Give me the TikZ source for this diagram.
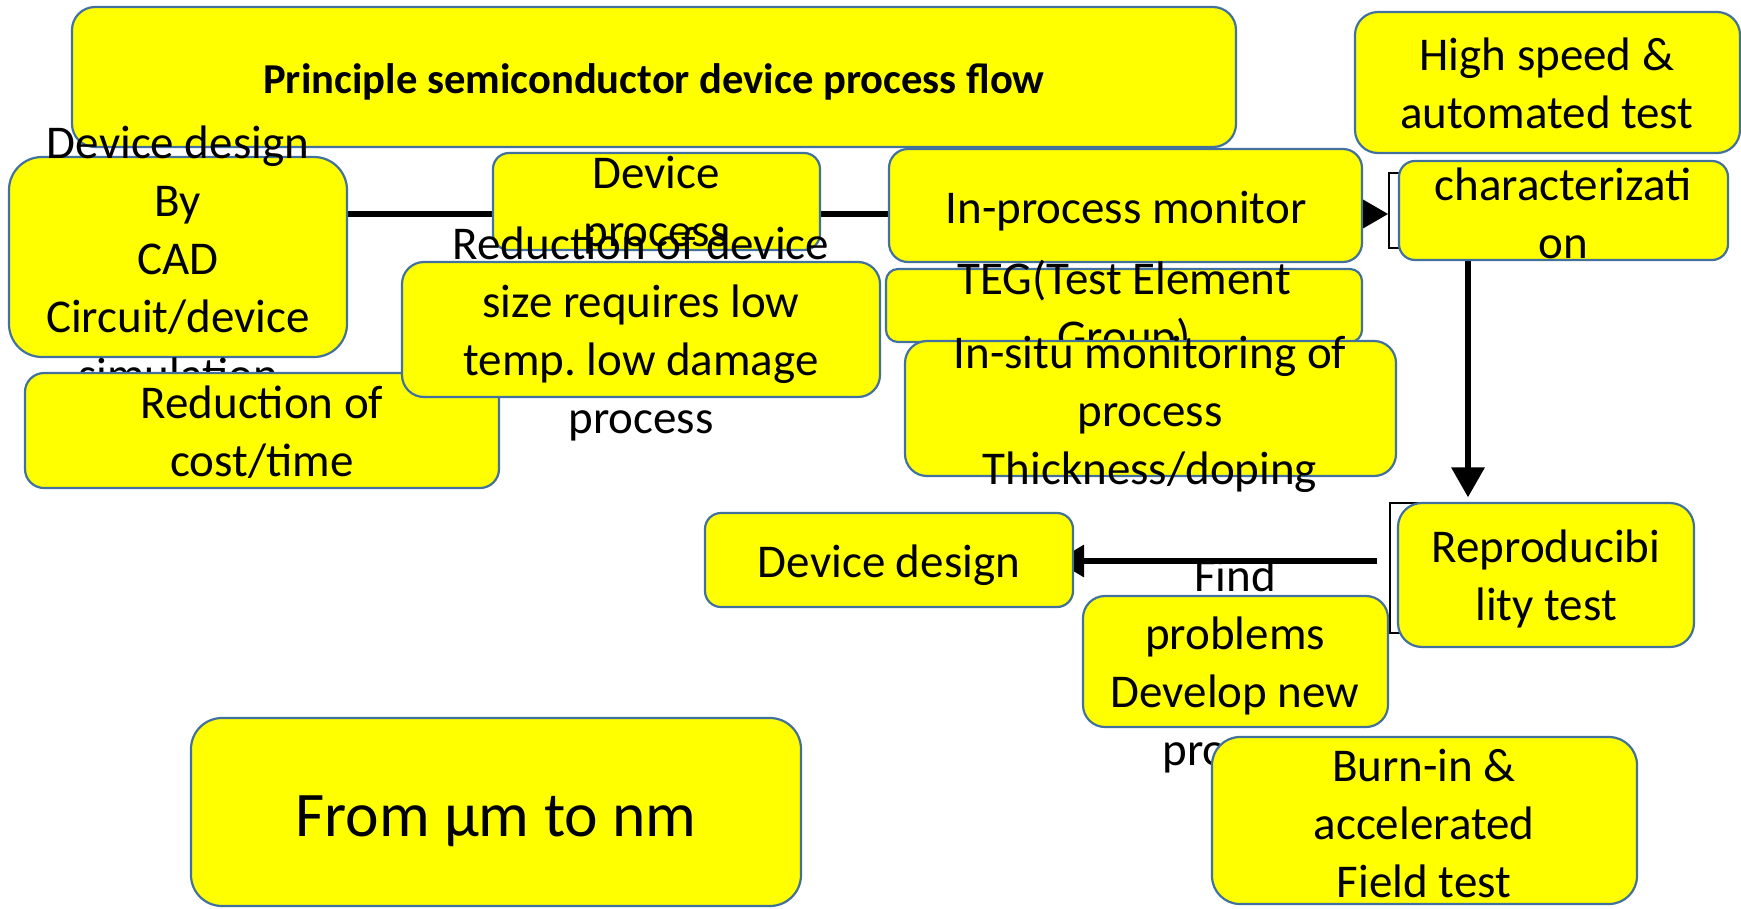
\documentclass[tikz,border=0pt]{standalone}
\usepackage{fontspec}
\setmainfont{Carlito}
\usetikzlibrary{shapes,arrows.meta}
\usetikzlibrary{positioning}

\pgfdeclarelayer{back}
\pgfsetlayers{back,main}

\definecolor{boxfill}{RGB}{255,255,0}
\definecolor{boxline}{RGB}{65,113,156}

\tikzset{
  pbox/.style={draw=boxline,fill=boxfill,line width=2.2pt,inner sep=0pt},
  ptext/.style={align=center,inner sep=0pt,font=\fontsize{47}{58}\selectfont},
  flow/.style={draw=black,line width=6.5pt},
  bracket/.style={draw=black,fill=white,line width=1.2pt,inner sep=0pt}
}

\frenchspacing
\begin{document}
\begin{tikzpicture}[x=1pt,y=-1pt]
\useasboundingbox (0,0) rectangle (1741,908);

\coordinate (flowy) at (0,214);
\coordinate (downx) at (1468,0);
\coordinate (backy) at (0,561);

\node[pbox,minimum width=1164pt,minimum height=140pt,rounded corners=23pt] (title) at (654,77) {};
\node[ptext,font=\fontsize{42.6}{52}\selectfont\bfseries] (titletxt) at (654,82) {Principle semiconductor device process flow};

\node[pbox,minimum width=338pt,minimum height=200pt,rounded corners=33pt] (cad) at (178,257) {};
\node[ptext] (cadtxt) at (178,258) {Device design\\By\\CAD\\Circuit/device\\simulation};

\node[pbox,minimum width=474pt,minimum height=115pt,rounded corners=19pt] (cost) at (262,430.5) {};
\node[ptext] (costtxt) at (262,432) {Reduction of\\cost/time};

\node[pbox,minimum width=327pt,minimum height=97pt,rounded corners=16pt] (proc) at (656.5,201.5) {};
\node[ptext] (proctxt) at (656,205) {Device\\process};

\node[pbox,minimum width=478pt,minimum height=135pt,rounded corners=22pt] (red) at (641,329.5) {};
\node[ptext] (redtxt) at (641,334) {Reduction of device\\size requires low\\temp. low damage\\process};

\node[pbox,minimum width=473pt,minimum height=113pt,rounded corners=19pt] (mon) at (1125.5,205.5) {};
\node[ptext] (montxt) at (1126,211) {In-process monitor};

\node[pbox,minimum width=476pt,minimum height=73pt,rounded corners=12pt] (teg) at (1124,305.5) {};
\node[ptext] (tegtxt) at (1124,310) {TEG(Test Element\\Group)};

\node[pbox,minimum width=491pt,minimum height=135pt,rounded corners=22pt] (insitu) at (1150.5,408.5) {};
\node[ptext] (insitutxt) at (1150,414) {In-situ monitoring of\\process\\Thickness/doping};

\node[pbox,minimum width=385pt,minimum height=141pt,rounded corners=23pt] (hs) at (1547.5,82.5) {};
\node[ptext] (hstxt) at (1547,83) {High speed \&\\automated test};

\node[bracket,minimum width=31pt,minimum height=75pt] (bra1) at (1404.5,210.5) {};
\node[pbox,minimum width=329pt,minimum height=99pt,rounded corners=16pt] (char) at (1563.5,210.5) {};
\node[ptext] (chartxt) at (1563,213) {characterizati\\on};

\node[bracket,minimum width=30pt,minimum height=130pt] (bra2) at (1405,568) {};
\node[pbox,minimum width=296pt,minimum height=144pt,rounded corners=24pt] (rep) at (1546,575) {};
\node[ptext] (reptxt) at (1546,579) {Reproducibi\\lity test};

\node[pbox,minimum width=368pt,minimum height=94pt,rounded corners=16pt] (dev) at (889,560) {};
\node[ptext] (devtxt) at (889,565) {Device design};

\node[pbox,minimum width=305pt,minimum height=131pt,rounded corners=22pt] (find) at (1235.5,661.5) {};
\node[ptext] (findtxt) at (1235,666) {Find\\problems\\Develop new\\process};

\node[pbox,minimum width=425pt,minimum height=167pt,rounded corners=28pt] (burn) at (1424.5,820.5) {};
\node[ptext] (burntxt) at (1424,823) {Burn-in \&\\accelerated\\Field test};

\node[pbox,minimum width=610pt,minimum height=188pt,rounded corners=31pt] (um) at (496,812) {};
\node[ptext,font=\fontsize{63.5}{76}\selectfont] (umtxt) at (496,821) {From µm to nm};

% connectors sit under the boxes
\begin{pgfonlayer}{back}
\draw[flow] (cad.east |- flowy) -- (mon.west |- flowy);
\draw[flow,-{Triangle[length=28pt,width=30pt]}] (mon.east |- flowy) -- (bra1.west |- flowy);
\draw[flow,-{Triangle[length=30pt,width=32pt]},shorten >=5pt] (char.south -| downx) -- (bra2.north -| downx);
\draw[flow,-{Triangle[length=28pt,width=31pt]},shorten <=12pt,shorten >=-18pt] (bra2.west |- backy) -- (dev.east |- backy);
\end{pgfonlayer}

\end{tikzpicture}
\end{document}
